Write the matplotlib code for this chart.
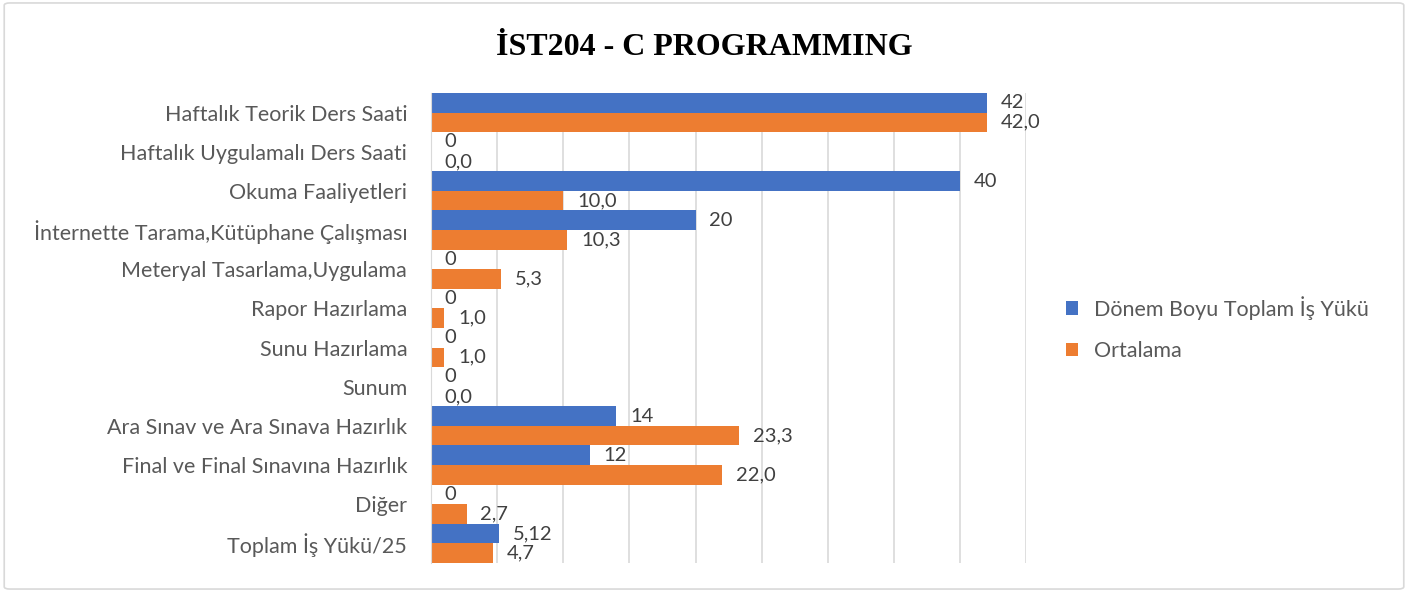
import matplotlib.pyplot as plt
from matplotlib.patches import FancyBboxPatch
import numpy as np

categories = ['Haftalık Teorik Ders Saati', 'Haftalık Uygulamalı Ders Saati', 'Okuma Faaliyetleri',
              'İnternette Tarama,Kütüphane Çalışması', 'Meteryal Tasarlama,Uygulama', 'Rapor Hazırlama',
              'Sunu Hazırlama', 'Sunum', 'Ara Sınav ve Ara Sınava Hazırlık', 'Final ve Final Sınavına Hazırlık',
              'Diğer', 'Toplam İş Yükü/25']
donem = [42, 0, 40, 20, 0, 0, 0, 0, 14, 12, 0, 5.12]
ortalama = [42.0, 0.0, 10.0, 10.3, 5.3, 1.0, 1.0, 0.0, 23.3, 22.0, 2.7, 4.7]

BLUE = '#4472C4'
ORANGE = '#ED7D31'
TXT = '#595959'

plt.rcParams['font.family'] = ['Lato', 'DejaVu Sans']

fig = plt.figure(figsize=(14.08, 5.92), dpi=100)
fig.patches.append(FancyBboxPatch((0.003, 0.005), 0.994, 0.99, boxstyle='round,pad=0,rounding_size=0.004',
                                  transform=fig.transFigure, facecolor='none', edgecolor='#d9d9d9', lw=1.2))
ax = fig.add_axes([0.306, 0.049, 0.423, 0.794])

y = np.arange(len(categories))
h = 0.5
b1 = ax.barh(y - h / 2, donem, height=h, color=BLUE, label='Dönem Boyu Toplam İş Yükü')
b2 = ax.barh(y + h / 2, ortalama, height=h, color=ORANGE, label='Ortalama')

for i, v in enumerate(donem):
    ax.annotate(f'{v:g}'.replace('.', ','), (v, y[i] - h / 2), xytext=(10, 0), textcoords='offset points',
                va='center', ha='left', fontsize=14.5, color='#404040')
for i, v in enumerate(ortalama):
    ax.annotate(f'{v:.1f}'.replace('.', ','), (v, y[i] + h / 2), xytext=(10, 0), textcoords='offset points',
                va='center', ha='left', fontsize=14.5, color='#404040')

ax.set_ylim(len(categories) - 0.5, -0.5)
ax.set_xlim(0, 45)
ax.set_xticks(np.arange(0, 46, 5))
ax.set_xticklabels([])
ax.tick_params(length=0)
ax.set_yticks(y)
ax.set_yticklabels(categories, fontsize=15.5, color=TXT)
ax.tick_params(axis='y', pad=17)
ax.grid(axis='x', color='#d9d9d9', lw=1.2)
ax.set_axisbelow(True)
for s in ['top', 'right', 'bottom']:
    ax.spines[s].set_visible(False)
ax.spines['left'].set_color('#d9d9d9')

fig.text(0.5, 0.92, 'İST204 - C PROGRAMMING', ha='center', va='center', fontsize=23,
         fontweight='bold', family='Liberation Serif', color='black')

fig.legend(handles=[b1, b2], loc='center left', bbox_to_anchor=(0.743, 0.445), frameon=False,
           fontsize=15.5, labelcolor=TXT, handlelength=0.6, handleheight=0.6, labelspacing=1.0,
           handletextpad=0.7)

fig.savefig('out.png', dpi=100)
